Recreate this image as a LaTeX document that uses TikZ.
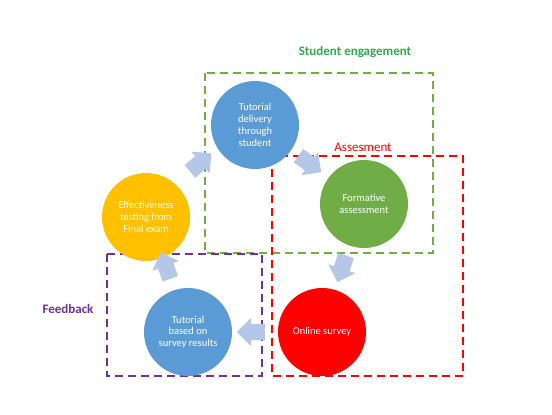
\documentclass[tikz,border=0pt]{standalone}
\usepackage{fontspec}
\setmainfont{Carlito}
\usepackage{tikz}
\usetikzlibrary{shapes.arrows, calc}
\usepackage{xcolor}
\definecolor{loopblue}{HTML}{5B9BD5}
\definecolor{loopgreen}{HTML}{70AD47}
\definecolor{loopred}{HTML}{FF0000}
\definecolor{loopyellow}{HTML}{FFC000}
\definecolor{looppurple}{HTML}{7030A0}
\definecolor{labelgreen}{HTML}{2EA84A}
\definecolor{arrowblue}{HTML}{B4C7E7}

\begin{document}
\begin{tikzpicture}[
    x=1pt, y=-1pt,
    stage/.style={circle, minimum size=88pt, inner sep=2pt, align=center, text=white, font=\fontsize{10.5}{11.8}\selectfont},
    flow/.style={single arrow, fill=arrowblue, draw=none, inner sep=8pt, minimum height=28pt, single arrow head extend=6pt},
    zone/.style={line width=2.2pt, dash pattern=on 8pt off 5pt},
    zonelabel/.style={font=\fontsize{13}{15}\selectfont},
]
    \useasboundingbox (0,0) rectangle (552,415);

    % Zones
    \draw[zone, loopgreen] (205,73) rectangle (433,253);
    \draw[zone, loopred] (272,156) rectangle (463,376);
    \draw[zone, looppurple] (107,254) rectangle (262,376);

    % Zone labels
    \node[zonelabel, text=labelgreen, font=\fontsize{13}{15}\selectfont\bfseries] (englabel) at (355,52) {Student engagement};
    \node[zonelabel, text=loopred] (asslabel) at (363,147) {Assesment};
    \node[zonelabel, text=looppurple, font=\fontsize{13}{15}\selectfont\bfseries] (fblabel) at (68,309) {Feedback};

    % Stages
    \node[stage, fill=loopblue] (deliv) at (255,125) {Tutorial\\delivery\\through\\student};
    \node[stage, fill=loopgreen] (formative) at (364,204) {Formative\\assessment};
    \node[stage, fill=loopred] (survey) at (322,332) {Online survey};
    \node[stage, fill=loopblue] (based) at (188,332) {Tutorial\\based on\\survey results};
    \node[stage, fill=loopyellow] (effect) at (146,217) {Effectiveness\\testing from\\Final exam};

    % Flow arrows
    \node[flow, rotate=40] (f1) at ($(effect)!0.5!(deliv)+(-3,-6)$) {};
    \node[flow, rotate=-36] (f2) at ($(deliv)!0.5!(formative)+(-3,-3)$) {};
    \node[flow, rotate=252] (f3) at ($(formative)!0.5!(survey)+(0,-3)$) {};
    \node[flow, rotate=180] (f4) at ($(survey)!0.5!(based)$) {};
    \node[flow, rotate=110] (f5) at ($(based)!0.5!(effect)+(0,-5)$) {};

\end{tikzpicture}
\end{document}
